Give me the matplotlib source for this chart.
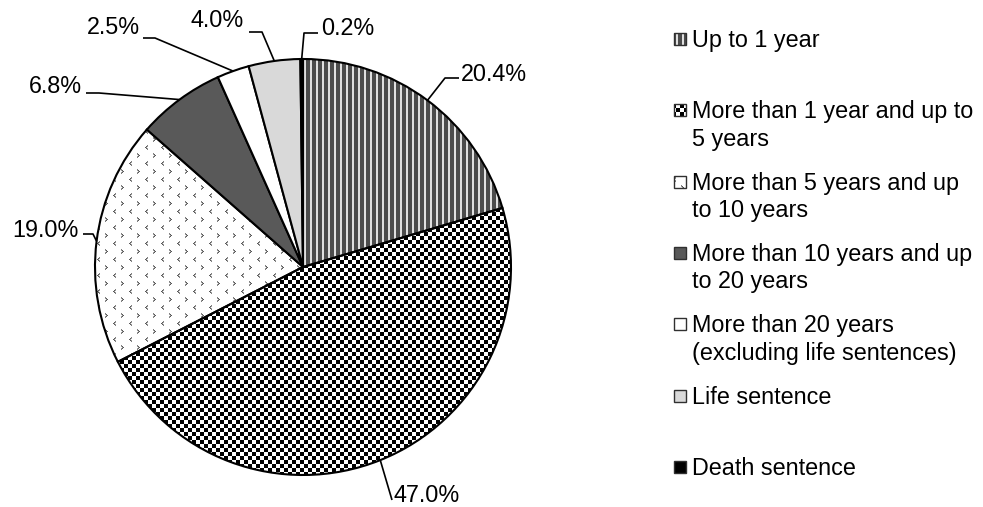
import numpy as np
import matplotlib
matplotlib.use("Agg")
import matplotlib.pyplot as plt
from matplotlib.patches import Rectangle

plt.rcParams['font.family'] = ['Liberation Sans', 'DejaVu Sans']

# ---- data ----
categories = [
    "Up to 1 year",
    "More than 1 year and up to\n5 years",
    "More than 5 years and up\nto 10 years",
    "More than 10 years and up\nto 20 years",
    "More than 20 years\n(excluding life sentences)",
    "Life sentence",
    "Death sentence",
]
values = [20.4, 47.0, 19.0, 6.8, 2.5, 4.0, 0.2]
pct_labels = ["20.4%", "47.0%", "19.0%", "6.8%", "2.5%", "4.0%", "0.2%"]

# ---- layout (pixels) ----
W, H = 983, 507
CX, CY, R = 303, 267, 208


def P(px, py):
    return (px - CX) / R, (CY - py) / R


fig = plt.figure(figsize=(W / 100, H / 100), dpi=100)
ax = fig.add_axes([0, 0, 1, 1])
ax.set_axis_off()

# textures
yy, xx = np.mgrid[0:H, 0:W]
def rgb(arr_gray):
    return np.dstack([arr_gray, arr_gray, arr_gray])

stripes = np.where((xx % 6) < 4, 0.30, 0.88)
checker = np.where(((xx // 4) + (yy // 4)) % 2 == 0, 0.0, 1.0)
tile = np.ones((16, 16))
# "<" chevron
for (r, c, g) in [(1, 3, 0.5), (2, 2, 0.35), (3, 1, 0.35), (4, 2, 0.35), (5, 3, 0.5),
                  (2, 3, 0.6), (3, 2, 0.6), (4, 3, 0.6)]:
    tile[r, c] = g
# ">" chevron
for (r, c, g) in [(9, 9, 0.5), (10, 10, 0.35), (11, 11, 0.35), (12, 10, 0.35), (13, 9, 0.5),
                  (10, 9, 0.6), (11, 10, 0.6), (12, 9, 0.6)]:
    tile[r, c] = g
chev = tile[yy % 16, xx % 16]

textures = {0: stripes, 1: checker, 2: chev}
solid = {3: '#595959', 4: 'white', 5: '#d9d9d9', 6: 'black'}

colors = [solid.get(i, 'none') for i in range(len(values))]
wedges, _ = ax.pie(values, startangle=90, counterclock=False, radius=1,
                   center=(0, 0), colors=colors,
                   wedgeprops=dict(edgecolor='black', linewidth=1.5, zorder=3))
for w, c in zip(wedges, colors):
    w.set_facecolor(c)
    w.set_zorder(3)

x0, y0 = P(0, H)
x1, y1 = P(W, 0)
ax.set_aspect('equal', adjustable='datalim')
ax.set_xlim(x0, x1)
ax.set_ylim(y0, y1)
ext = (x0, x1, y0, y1)

for i, tex in textures.items():
    im = ax.imshow(rgb(tex), extent=ext, interpolation='nearest',
                   origin='upper', zorder=2, aspect='auto')
    im.set_clip_path(wedges[i])

FS = 16.8
# percent labels: (text x, baseline y, ha) and elbow points in pixels
label_layout = [
    dict(tx=461, ty=81, ha='left', pts=[(445, 78), (459, 78)]),
    dict(tx=394, ty=502, ha='left', pts=[(392, 500)]),
    dict(tx=79, ty=237, ha='right', pts=[(93, 234), (83, 234)]),
    dict(tx=82, ty=93, ha='right', pts=[(99, 93), (86, 93)]),
    dict(tx=140, ty=34, ha='right', pts=[(155, 38), (143, 38)]),
    dict(tx=244, ty=27, ha='right', pts=[(262, 32), (249, 32)]),
    dict(tx=321, ty=35, ha='left', pts=[(304, 33), (318, 33)]),
]
for w, lab, lay in zip(wedges, pct_labels, label_layout):
    th = np.deg2rad((w.theta1 + w.theta2) / 2)
    xs = [np.cos(th)] + [P(*p)[0] for p in lay['pts']]
    ys = [np.sin(th)] + [P(*p)[1] for p in lay['pts']]
    ax.plot(xs, ys, color='black', lw=1.2, zorder=4, clip_on=False,
            solid_capstyle='butt')
    tx, ty = P(lay['tx'], lay['ty'])
    ax.text(tx, ty, lab, ha=lay['ha'], va='baseline', fontsize=FS,
            color='black')

# legend
for i, lab in enumerate(categories):
    base = 47 + 71.3 * i
    for k, line in enumerate(lab.split("\n")):
        lx, ly = P(692, base + 27.5 * k)
        ax.text(lx, ly, line, ha='left', va='baseline', fontsize=FS,
                color='black')
    mx, my = P(674, base - 2)
    s = 12 / R
    face = 'none' if i in textures else solid[i]
    rect = Rectangle((mx, my), s, s, facecolor=face, edgecolor='#303030',
                     lw=1.0, zorder=3)
    ax.add_patch(rect)
    if i in textures:
        im = ax.imshow(rgb(textures[i]), extent=ext, interpolation='nearest',
                       origin='upper', zorder=2, aspect='auto')
        im.set_clip_path(rect)

ax.set_xlim(x0, x1)
ax.set_ylim(y0, y1)
fig.savefig("out.png", dpi=100)
